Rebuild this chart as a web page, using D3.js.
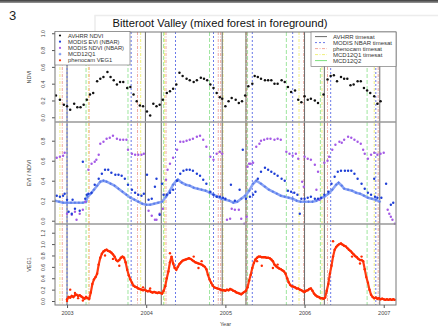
<!DOCTYPE html>
<html><head><meta charset="utf-8">
<script src="https://cdn.jsdelivr.net/npm/d3@7"></script>
<style>body{margin:0;background:#fff} svg{display:block} text{font-family:"Liberation Sans",Arial,sans-serif}</style>
</head><body><svg id="c" width="438" height="329"></svg>
<script>
// ---------------- DATA ----------------
const title = "Bitteroot Valley (mixed forest in foreground)";
const figNumber = "3";
const yearTicks = [2003, 2004, 2005, 2006, 2007];
const ndviTicks = [0, 0.2, 0.4, 0.6, 0.8, 1.0];
const eviTicks = [0, 0.2, 0.4, 0.6, 0.8];
const vegTicks = [0, 0.2, 0.4, 0.6, 0.8, 1.0, 1.2];
const pointLegend = ["AVHRR NDVI", "MODIS EVI (NBAR)", "MODIS NDVI (NBAR)", "MCD12Q1", "phenocam VEG1"];
const lineLegend = ["AVHRR timesat", "MODIS NBAR timesat", "phenocam timesat", "MCD12Q1 timesat", "MCD12Q2"];

const avhrrNDVI = [[2002.86,0.26],[2002.91,0.21],[2002.96,0.15],[2003.00,0.13],[2003.04,0.09],[2003.09,0.16],[2003.13,0.12],[2003.17,0.12],[2003.21,0.15],[2003.25,0.21],[2003.29,0.27],[2003.33,0.29],[2003.38,0.43],[2003.42,0.46],[2003.46,0.48],[2003.51,0.54],[2003.55,0.48],[2003.59,0.44],[2003.63,0.39],[2003.67,0.42],[2003.71,0.42],[2003.76,0.35],[2003.80,0.36],[2003.84,0.27],[2003.88,0.19],[2003.92,0.14],[2003.96,0.13],[2004.01,0.07],[2004.05,0.02],[2004.09,0.16],[2004.13,0.13],[2004.17,0.15],[2004.21,0.21],[2004.26,0.29],[2004.30,0.31],[2004.34,0.34],[2004.38,0.39],[2004.42,0.53],[2004.46,0.49],[2004.51,0.46],[2004.55,0.44],[2004.60,0.42],[2004.64,0.44],[2004.69,0.47],[2004.73,0.46],[2004.77,0.44],[2004.81,0.39],[2004.85,0.35],[2004.89,0.29],[2004.93,0.24],[2004.96,0.22],[2005.00,0.13],[2005.04,0.19],[2005.08,0.23],[2005.13,0.21],[2005.17,0.17],[2005.21,0.19],[2005.25,0.26],[2005.29,0.37],[2005.34,0.40],[2005.37,0.49],[2005.41,0.48],[2005.45,0.46],[2005.50,0.44],[2005.54,0.44],[2005.58,0.44],[2005.62,0.40],[2005.66,0.40],[2005.71,0.44],[2005.75,0.42],[2005.79,0.36],[2005.83,0.30],[2005.88,0.32],[2005.92,0.21],[2005.96,0.18],[2006.00,0.25],[2006.04,0.21],[2006.08,0.22],[2006.13,0.20],[2006.17,0.17],[2006.24,0.27],[2006.29,0.45],[2006.33,0.49],[2006.37,0.50],[2006.41,0.43],[2006.46,0.48],[2006.50,0.46],[2006.54,0.46],[2006.58,0.38],[2006.62,0.39],[2006.67,0.43],[2006.71,0.43],[2006.75,0.35],[2006.79,0.32],[2006.83,0.29],[2006.88,0.25],[2006.92,0.16],[2006.96,0.19]];

const modisEVI = [[2002.87,0.25],[2002.91,0.24],[2002.95,0.25],[2002.97,0.27],[2003.00,0.21],[2003.02,0.09],[2003.06,0.07],[2003.07,0.21],[2003.10,0.12],[2003.16,0.10],[2003.20,0.59],[2003.23,0.22],[2003.25,0.26],[2003.27,0.27],[2003.31,0.28],[2003.35,0.36],[2003.40,0.42],[2003.44,0.47],[2003.48,0.51],[2003.52,0.51],[2003.56,0.48],[2003.61,0.46],[2003.65,0.46],[2003.69,0.45],[2003.73,0.42],[2003.77,0.36],[2003.82,0.31],[2003.86,0.28],[2003.90,0.26],[2003.94,0.25],[2003.97,0.27],[2004.01,0.46],[2004.03,0.21],[2004.07,0.22],[2004.11,0.34],[2004.13,0.42],[2004.17,0.06],[2004.20,0.37],[2004.22,0.26],[2004.26,0.26],[2004.30,0.28],[2004.34,0.31],[2004.39,0.40],[2004.43,0.47],[2004.47,0.50],[2004.51,0.51],[2004.55,0.51],[2004.59,0.50],[2004.64,0.47],[2004.68,0.45],[2004.72,0.41],[2004.76,0.37],[2004.81,0.29],[2004.85,0.26],[2004.89,0.24],[2004.93,0.24],[2004.97,0.23],[2005.00,0.22],[2005.07,0.36],[2005.12,0.20],[2005.18,0.31],[2005.22,0.71],[2005.26,0.22],[2005.31,0.24],[2005.35,0.26],[2005.38,0.29],[2005.41,0.42],[2005.45,0.49],[2005.50,0.53],[2005.54,0.51],[2005.58,0.49],[2005.62,0.47],[2005.66,0.45],[2005.71,0.42],[2005.75,0.40],[2005.79,0.30],[2005.83,0.29],[2005.87,0.28],[2005.91,0.26],[2005.94,0.07],[2005.96,0.22],[2006.00,0.22],[2006.04,0.23],[2006.08,0.24],[2006.13,0.22],[2006.17,0.22],[2006.21,0.23],[2006.25,0.26],[2006.30,0.29],[2006.34,0.37],[2006.38,0.44],[2006.42,0.49],[2006.46,0.50],[2006.51,0.50],[2006.55,0.50],[2006.59,0.50],[2006.63,0.47],[2006.67,0.42],[2006.72,0.37],[2006.76,0.32],[2006.80,0.28],[2006.84,0.26],[2006.88,0.42],[2006.89,0.24],[2006.92,0.23],[2006.97,0.23],[2007.03,0.37],[2007.09,0.16],[2007.12,0.18]];

const modisNDVI = [[2002.87,0.63],[2002.91,0.64],[2002.95,0.65],[2002.97,0.68],[2003.00,0.07],[2003.06,0.06],[2003.10,0.09],[2003.12,0.01],[2003.16,0.07],[2003.20,0.11],[2003.23,0.19],[2003.27,0.51],[2003.31,0.57],[2003.35,0.59],[2003.37,0.61],[2003.40,0.66],[2003.42,0.77],[2003.46,0.79],[2003.50,0.82],[2003.54,0.83],[2003.58,0.85],[2003.63,0.82],[2003.67,0.81],[2003.71,0.81],[2003.75,0.81],[2003.77,0.71],[2003.82,0.67],[2003.86,0.66],[2003.90,0.66],[2003.94,0.66],[2003.97,0.67],[2004.03,0.10],[2004.07,0.05],[2004.11,0.01],[2004.13,0.01],[2004.17,0.07],[2004.21,0.12],[2004.25,0.41],[2004.27,0.51],[2004.30,0.57],[2004.34,0.63],[2004.39,0.71],[2004.43,0.79],[2004.47,0.79],[2004.51,0.80],[2004.55,0.81],[2004.59,0.82],[2004.64,0.84],[2004.68,0.85],[2004.72,0.81],[2004.76,0.74],[2004.81,0.64],[2004.85,0.61],[2004.89,0.67],[2004.93,0.69],[2004.96,0.67],[2005.02,0.01],[2005.06,0.02],[2005.08,0.12],[2005.12,0.11],[2005.17,0.11],[2005.20,0.02],[2005.24,-0.03],[2005.27,0.04],[2005.28,0.54],[2005.30,0.57],[2005.32,0.57],[2005.35,0.58],[2005.39,0.74],[2005.43,0.77],[2005.45,0.80],[2005.49,0.81],[2005.53,0.82],[2005.57,0.82],[2005.62,0.81],[2005.66,0.82],[2005.70,0.81],[2005.77,0.69],[2005.81,0.67],[2005.85,0.65],[2005.89,0.67],[2005.92,0.62],[2005.97,0.39],[2005.99,0.34],[2006.00,0.64],[2006.04,0.62],[2006.08,0.61],[2006.13,0.56],[2006.15,0.31],[2006.17,0.49],[2006.19,0.21],[2006.25,0.58],[2006.29,0.60],[2006.31,0.64],[2006.35,0.71],[2006.39,0.76],[2006.44,0.79],[2006.47,0.78],[2006.50,0.81],[2006.55,0.84],[2006.59,0.83],[2006.63,0.81],[2006.67,0.79],[2006.71,0.77],[2006.74,0.71],[2006.76,0.67],[2006.80,0.62],[2006.84,0.66],[2006.88,0.68],[2006.92,0.66],[2006.96,0.67],[2007.00,0.68],[2007.05,0.11],[2007.07,0.07],[2007.09,0.04],[2007.11,0.01],[2007.14,-0.03]];

const mcd12q1 = [[2002.85,0.20],[2002.90,0.19],[2002.95,0.18],[2003.00,0.18],[2003.05,0.18],[2003.10,0.18],[2003.15,0.18],[2003.20,0.18],[2003.24,0.19],[2003.26,0.24],[2003.30,0.27],[2003.34,0.31],[2003.38,0.35],[2003.42,0.39],[2003.46,0.40],[2003.50,0.39],[2003.55,0.37],[2003.60,0.35],[2003.65,0.32],[2003.70,0.29],[2003.75,0.26],[2003.80,0.23],[2003.85,0.21],[2003.90,0.19],[2003.95,0.17],[2004.00,0.16],[2004.05,0.16],[2004.10,0.17],[2004.15,0.18],[2004.20,0.19],[2004.25,0.24],[2004.30,0.30],[2004.34,0.36],[2004.38,0.40],[2004.40,0.41],[2004.45,0.38],[2004.50,0.36],[2004.55,0.35],[2004.60,0.33],[2004.65,0.32],[2004.70,0.31],[2004.75,0.30],[2004.80,0.28],[2004.85,0.26],[2004.90,0.24],[2004.95,0.22],[2005.00,0.21],[2005.05,0.20],[2005.10,0.18],[2005.15,0.19],[2005.20,0.22],[2005.25,0.25],[2005.30,0.30],[2005.35,0.37],[2005.39,0.40],[2005.45,0.37],[2005.50,0.34],[2005.55,0.31],[2005.60,0.29],[2005.65,0.27],[2005.70,0.25],[2005.75,0.24],[2005.80,0.23],[2005.85,0.22],[2005.90,0.20],[2005.95,0.19],[2006.00,0.19],[2006.05,0.19],[2006.10,0.19],[2006.15,0.20],[2006.20,0.22],[2006.25,0.24],[2006.30,0.27],[2006.35,0.31],[2006.40,0.36],[2006.43,0.38],[2006.47,0.35],[2006.50,0.32],[2006.55,0.31],[2006.60,0.30],[2006.65,0.28],[2006.70,0.27],[2006.75,0.25],[2006.80,0.23],[2006.85,0.22],[2006.90,0.21],[2006.95,0.19]];

const phenocamVEG1 = [[2003.00,0.03],[2003.02,0.07],[2003.04,0.06],[2003.06,0.09],[2003.08,0.07],[2003.10,0.10],[2003.12,0.11],[2003.14,0.09],[2003.16,0.10],[2003.18,0.08],[2003.20,0.06],[2003.22,0.04],[2003.24,0.07],[2003.26,0.05],[2003.28,0.04],[2003.30,0.15],[2003.32,0.30],[2003.34,0.38],[2003.36,0.42],[2003.38,0.48],[2003.40,0.64],[2003.42,0.76],[2003.44,0.83],[2003.46,0.87],[2003.48,0.89],[2003.50,0.90],[2003.52,0.88],[2003.54,0.87],[2003.56,0.85],[2003.58,0.82],[2003.60,0.78],[2003.62,0.72],[2003.64,0.70],[2003.66,0.72],[2003.68,0.76],[2003.70,0.78],[2003.72,0.76],[2003.74,0.68],[2003.76,0.55],[2003.78,0.45],[2003.80,0.38],[2003.82,0.32],[2003.84,0.27],[2003.86,0.25],[2003.88,0.24],[2003.90,0.22],[2003.92,0.21],[2003.94,0.20],[2003.96,0.19],[2003.98,0.20],[2004.00,0.18],[2004.02,0.17],[2004.04,0.18],[2004.06,0.16],[2004.08,0.15],[2004.10,0.16],[2004.12,0.15],[2004.14,0.14],[2004.16,0.15],[2004.18,0.14],[2004.20,0.13],[2004.22,0.18],[2004.24,0.26],[2004.26,0.40],[2004.28,0.52],[2004.30,0.68],[2004.32,0.78],[2004.34,0.66],[2004.36,0.58],[2004.38,0.55],[2004.40,0.60],[2004.42,0.65],[2004.44,0.68],[2004.46,0.71],[2004.48,0.72],[2004.50,0.73],[2004.52,0.74],[2004.54,0.75],[2004.56,0.74],[2004.58,0.72],[2004.60,0.70],[2004.62,0.68],[2004.64,0.67],[2004.66,0.66],[2004.68,0.65],[2004.70,0.64],[2004.72,0.62],[2004.74,0.60],[2004.76,0.56],[2004.78,0.46],[2004.80,0.38],[2004.82,0.32],[2004.84,0.27],[2004.86,0.24],[2004.88,0.23],[2004.90,0.22],[2004.92,0.21],[2004.94,0.20],[2004.96,0.19],[2004.98,0.19],[2005.00,0.18],[2005.02,0.20],[2005.04,0.19],[2005.06,0.21],[2005.08,0.20],[2005.10,0.18],[2005.12,0.17],[2005.14,0.15],[2005.16,0.14],[2005.18,0.13],[2005.20,0.12],[2005.22,0.14],[2005.24,0.16],[2005.26,0.18],[2005.28,0.24],[2005.30,0.36],[2005.32,0.46],[2005.34,0.58],[2005.36,0.67],[2005.38,0.73],[2005.40,0.76],[2005.42,0.78],[2005.44,0.78],[2005.46,0.77],[2005.48,0.77],[2005.50,0.77],[2005.52,0.76],[2005.54,0.76],[2005.56,0.75],[2005.58,0.73],[2005.60,0.70],[2005.62,0.64],[2005.64,0.61],[2005.66,0.59],[2005.68,0.57],[2005.70,0.56],[2005.72,0.54],[2005.74,0.52],[2005.76,0.48],[2005.78,0.40],[2005.80,0.33],[2005.82,0.28],[2005.84,0.26],[2005.86,0.25],[2005.88,0.24],[2005.90,0.22],[2005.92,0.22],[2005.94,0.20],[2005.96,0.19],[2005.98,0.17],[2006.00,0.16],[2006.02,0.18],[2006.04,0.19],[2006.06,0.21],[2006.08,0.22],[2006.10,0.18],[2006.12,0.13],[2006.14,0.10],[2006.16,0.08],[2006.18,0.07],[2006.20,0.05],[2006.22,0.05],[2006.24,0.04],[2006.26,0.06],[2006.28,0.18],[2006.30,0.30],[2006.32,0.48],[2006.34,0.62],[2006.36,0.78],[2006.38,0.90],[2006.40,0.95],[2006.42,0.98],[2006.44,1.00],[2006.46,1.01],[2006.48,0.99],[2006.50,0.97],[2006.52,0.96],[2006.54,0.93],[2006.56,0.90],[2006.58,0.88],[2006.60,0.85],[2006.62,0.82],[2006.64,0.79],[2006.66,0.77],[2006.68,0.74],[2006.70,0.72],[2006.72,0.72],[2006.74,0.70],[2006.76,0.56],[2006.78,0.42],[2006.80,0.32],[2006.82,0.20],[2006.84,0.11],[2006.86,0.07],[2006.88,0.05],[2006.90,0.06],[2006.92,0.04],[2006.94,0.05],[2006.96,0.03],[2006.98,0.04],[2007.00,0.03],[2007.02,0.02],[2007.04,0.03],[2007.06,0.02],[2007.08,0.03],[2007.10,0.02],[2007.12,0.03],[2007.14,0.02]];

const phenocamScatter = [[2003.00,0.00],[2003.04,0.20],[2003.10,0.14],[2003.14,0.05],[2003.20,0.01],[2003.48,0.80],[2003.58,0.74],[2003.66,0.62],[2003.96,0.24],[2004.05,0.22],[2004.30,0.84],[2004.60,0.78],[2004.66,0.58],[2004.70,0.70],[2005.40,0.70],[2005.46,0.62],[2005.60,0.58],[2005.66,0.64],[2006.36,1.05],[2006.60,0.78],[2006.70,0.66],[2006.72,0.78]];

// season-boundary vertical lines (decimal year)
const avhrrTimesat = [2003.00, 2003.99, 2004.19, 2004.96, 2005.26, 2006.00, 2006.25, 2006.95];
const modisTimesat = [2003.00, 2003.81, 2004.37, 2004.85, 2005.34, 2005.85, 2006.33, 2006.90];
const phenocamTimesat = [2002.94, 2003.28, 2003.89, 2004.25, 2004.91, 2004.94, 2005.27, 2005.99, 2006.29, 2006.93];
const mcd12q1Timesat = [2002.91, 2003.27, 2003.93, 2004.23, 2004.97, 2005.26, 2005.93, 2006.22, 2006.88];
const mcd12q2 = [2003.24, 2003.77, 2004.22, 2004.80, 2005.28, 2005.77, 2006.20, 2006.79];

// ---------------- DRAWING ----------------
const svg = d3.select('#c');
const L = 55, R = 396, TOP = 32, BOT = 305;
const x = d3.scaleLinear().domain([2002.848, 2007.155]).range([L, R]);

const panels = [
  {top: 32, bottom: 122, domain: [-0.056, 1.015], ticks: ndviTicks, label: 'NDVI'},
  {top: 122, bottom: 224, domain: [-0.033, 0.987], ticks: eviTicks, label: 'EVI / NDVI'},
  {top: 224, bottom: 305, domain: [-0.07, 1.353], ticks: vegTicks, label: 'VEG1'}
];
panels.forEach(p => { p.y = d3.scaleLinear().domain(p.domain).range([p.bottom, p.top]); });

// top dark band & title box shadow
const grad = svg.append('defs').append('linearGradient').attr('id','band').attr('x1',0).attr('x2',0).attr('y1',0).attr('y2',1);
grad.append('stop').attr('offset','0%').attr('stop-color','#3a3a3a');
grad.append('stop').attr('offset','100%').attr('stop-color','#9a9a9a');
svg.append('rect').attr('x',0).attr('y',0).attr('width',438).attr('height',3).attr('fill','url(#band)');
svg.append('path').attr('d','M95,40V15.5H438').attr('fill','none').attr('stroke','#ececec').attr('stroke-width',1.5);

svg.append('text').attr('x', 9).attr('y', 20).attr('font-size', 13).attr('fill','#222').text(figNumber);
svg.append('text').attr('x', 220).attr('y', 27).attr('text-anchor','middle').attr('font-size', 11.2).attr('fill','#111').text(title);

// clip
svg.append('clipPath').attr('id','plotclip').append('rect').attr('x',L).attr('y',TOP).attr('width',R-L).attr('height',BOT-TOP);
const plot = svg.append('g').attr('clip-path','url(#plotclip)');

// vertical season lines
const vStyles = [
  {data: mcd12q2, color: '#9ee69e', dash: '4,2', w: 1},
  {data: mcd12q1Timesat, color: '#f0f07c', dash: '3,1.5,1,1.5', w: 1},
  {data: phenocamTimesat, color: '#f0a89e', dash: '3,1.5,1,1.5', w: 1},
  {data: avhrrTimesat, color: '#6a6a6a', dash: null, w: 1},
  {data: modisTimesat, color: '#6a7ae8', dash: '2,2', w: 1}
];
vStyles.forEach(s => {
  plot.append('g').selectAll('line').data(s.data).join('line')
    .attr('x1', d => x(d)).attr('x2', d => x(d)).attr('y1', TOP).attr('y2', BOT)
    .attr('stroke', s.color).attr('stroke-width', s.w).attr('stroke-dasharray', s.dash);
});

// panels
panels.forEach((p, i) => {
  const g = svg.append('g').attr('transform', `translate(${L},0)`);
  const ax = d3.axisLeft(p.y).tickValues(p.ticks).tickFormat(d3.format('.1f')).tickSize(3).tickPadding(2);
  g.call(ax);
  g.select('.domain').remove();
  g.selectAll('.tick line').attr('stroke','#555');
  g.selectAll('.tick text').attr('transform','rotate(-90)').attr('x',0).attr('y',-10.5).attr('dy',0)
    .attr('text-anchor','middle').attr('font-size',5.2).attr('fill','#444').attr('font-family','Liberation Sans, Arial, sans-serif');
  svg.append('text').attr('transform', `translate(31,${(p.top+p.bottom)/2}) rotate(-90)`)
    .attr('text-anchor','middle').attr('font-size',5.5).attr('fill','#444').text(p.label);
});

// panel frames
svg.append('rect').attr('x',L).attr('y',TOP).attr('width',R-L).attr('height',BOT-TOP).attr('fill','none').attr('stroke','#777').attr('stroke-width',1);
[122, 224].forEach(yy => svg.append('line').attr('x1',L).attr('x2',R).attr('y1',yy).attr('y2',yy).attr('stroke','#999').attr('stroke-width',1.6));

// x axis
const xg = svg.append('g').attr('transform',`translate(0,${BOT})`);
xg.call(d3.axisBottom(x).tickValues(yearTicks).tickFormat(d3.format('d')).tickSize(3).tickPadding(3));
xg.select('.domain').remove();
xg.selectAll('.tick line').attr('stroke','#555');
xg.selectAll('.tick text').attr('font-size',5.5).attr('fill','#444').attr('font-family','Liberation Sans, Arial, sans-serif');
svg.append('text').attr('x',(L+R)/2).attr('y',326).attr('text-anchor','middle').attr('font-size',5.5).attr('fill','#444').text('Year');

// panel 1 : AVHRR NDVI
const p1 = panels[0], p2 = panels[1], p3 = panels[2];
plot.append('g').selectAll('circle').data(avhrrNDVI).join('circle')
  .attr('cx', d => x(d[0])).attr('cy', d => p1.y(d[1])).attr('r', 1.25).attr('fill', '#111');

// panel 2
const line2 = d3.line().x(d => x(d[0])).y(d => p2.y(d[1]));
plot.append('path').datum(mcd12q1).attr('d', line2).attr('fill','none').attr('stroke','#8aa4f4').attr('stroke-width',2.6);
plot.append('g').selectAll('path').data(mcd12q1).join('path')
  .attr('transform', d => `translate(${x(d[0])},${p2.y(d[1])})`)
  .attr('d','M-1.3,0H1.3M0,-1.3V1.3').attr('stroke','#4f73ea').attr('stroke-width',0.7);
plot.append('g').selectAll('circle').data(modisNDVI).join('circle')
  .attr('cx', d => x(d[0])).attr('cy', d => p2.y(d[1])).attr('r', 1.2).attr('fill', '#a45ae6');
plot.append('g').selectAll('circle').data(modisEVI).join('circle')
  .attr('cx', d => x(d[0])).attr('cy', d => p2.y(d[1])).attr('r', 1.2).attr('fill', '#1f3fd6');

// panel 3 phenocam
const line3 = d3.line().x(d => x(d[0])).y(d => p3.y(d[1]));
plot.append('path').datum(phenocamVEG1).attr('d', line3).attr('fill','none').attr('stroke','#ff3a10').attr('stroke-width',2.2);
plot.append('g').selectAll('circle').data(phenocamVEG1.concat(phenocamScatter)).join('circle')
  .attr('cx', d => x(d[0])).attr('cy', d => p3.y(d[1])).attr('r', 1.2).attr('fill', '#ff2a00');

// legends
const lg1 = svg.append('g');
lg1.append('rect').attr('x',L).attr('y',31.5).attr('width',75).attr('height',33.5).attr('fill','#fff').attr('stroke','#666').attr('stroke-width',0.6);
const ptColors = ['#111','#1f3fd6','#a45ae6','#4f73ea','#ff2a00'];
pointLegend.forEach((t, i) => {
  const yy = 35.5 + i*6.2;
  if (i === 3) lg1.append('path').attr('d',`M${58.7},${yy}H${61.3}M60,${yy-1.3}V${yy+1.3}`).attr('stroke',ptColors[i]).attr('stroke-width',0.8);
  else lg1.append('circle').attr('cx',60).attr('cy',yy).attr('r',1.1).attr('fill',ptColors[i]);
  lg1.append('text').attr('x',68).attr('y',yy+2).attr('font-size',5.8).attr('fill','#333').text(t);
});
const lg2 = svg.append('g');
lg2.append('rect').attr('x',311).attr('y',32).attr('width',85).attr('height',34.5).attr('fill','#fff').attr('stroke','#666').attr('stroke-width',0.6);
const lnStyles = [vStyles[3], vStyles[4], vStyles[2], vStyles[1], {color:'#7ee07e', dash:null}];
lineLegend.forEach((t, i) => {
  const yy = 36.6 + i*6;
  lg2.append('line').attr('x1',315).attr('x2',327).attr('y1',yy).attr('y2',yy)
    .attr('stroke',lnStyles[i].color).attr('stroke-width',1).attr('stroke-dasharray',lnStyles[i].dash);
  lg2.append('text').attr('x',333).attr('y',yy+2).attr('font-size',6).attr('fill','#333').text(t);
});
</script></body></html>
